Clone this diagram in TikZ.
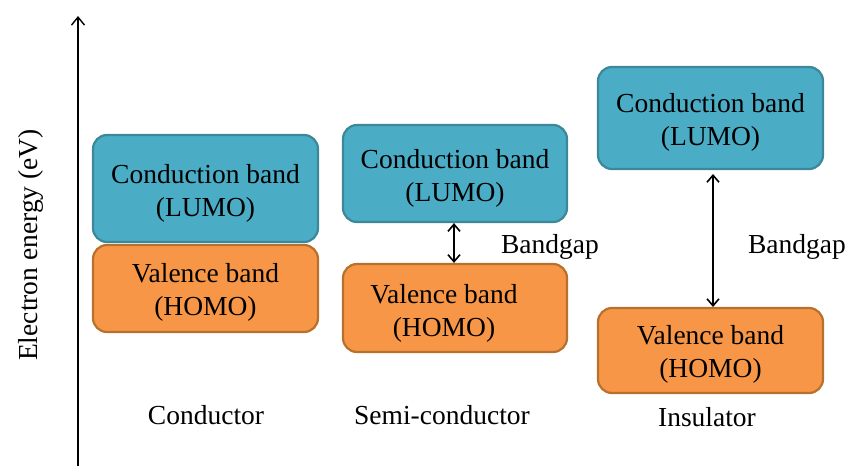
\documentclass[tikz,border=0pt]{standalone}
\usepackage{fontspec}
\setmainfont{Liberation Serif}
\usetikzlibrary{arrows.meta}
\definecolor{cbfill}{HTML}{4BACC6}
\definecolor{cbline}{HTML}{3C8799}
\definecolor{vbfill}{HTML}{F79646}
\definecolor{vbline}{HTML}{B8702F}
\tikzset{
  band/.style={rounded corners=14pt, line width=2.2pt, inner sep=0pt},
  cband/.style={band, fill=cbfill, draw=cbline},
  vband/.style={band, fill=vbfill, draw=vbline},
  lbl/.style={font=\fontsize{27.5}{33}\selectfont, inner sep=0pt},
  bandtext/.style={lbl, align=center},
  gap/.style={{Straight Barb[length=7pt,width=12pt]}-{Straight Barb[length=7pt,width=12pt]}, line width=1.6pt}
}
\begin{document}
\begin{tikzpicture}[x=1pt,y=-1pt]
\useasboundingbox (0,0) rectangle (846,466);
% energy axis
\coordinate (axb) at (78,466);
\coordinate (axt) at (78,16);
\draw[line width=1.4pt, -{Straight Barb[length=8pt,width=13pt]}] (axb) -- (axt);
\node[lbl, rotate=90] (ylab) at (31,245) {Electron energy (eV)};
% conductor
\node[cband, minimum width=225pt, minimum height=107pt] (c1) at (205.5,188.5) {};
\node[bandtext] (c1t) at ([yshift=-5pt]c1.center) {Conduction band\\(LUMO)};
\node[vband, minimum width=225pt, minimum height=87pt] (v1) at (205.5,288.5) {};
\node[bandtext] (v1t) at ([yshift=-4pt]v1.center) {Valence band\\(HOMO)};
\node[lbl] (t1) at (206,415) {Conductor};
% semiconductor
\node[cband, minimum width=224pt, minimum height=97pt] (c2) at (455,173.5) {};
\node[bandtext] (c2t) at ([yshift=-5pt]c2.center) {Conduction band\\(LUMO)};
\node[vband, minimum width=224pt, minimum height=88pt] (v2) at (455,308) {};
\node[bandtext] (v2t) at ([xshift=-11pt,yshift=-5pt]v2.center) {Valence band\\(HOMO)};
\draw[gap] (c2.south -| 454,0) -- (v2.north -| 454,0);
\node[lbl] (g2) at (550,247) {Bandgap};
\node[lbl] (t2) at (442,415) {Semi-conductor};
% insulator
\node[cband, minimum width=225pt, minimum height=102pt] (c3) at (710.5,118) {};
\node[bandtext] (c3t) at ([yshift=-4pt]c3.center) {Conduction band\\(LUMO)};
\node[vband, minimum width=225pt, minimum height=85pt] (v3) at (710.5,350.5) {};
\node[bandtext] (v3t) at ([yshift=-4pt]v3.center) {Valence band\\(HOMO)};
\coordinate (a3t) at (713,174);
\coordinate (a3b) at (713,307);
\draw[gap] (a3t) -- (a3b);
\node[lbl] (g3) at (797,247) {Bandgap};
\node[lbl] (t3) at (707,417) {Insulator};
\end{tikzpicture}
\end{document}
